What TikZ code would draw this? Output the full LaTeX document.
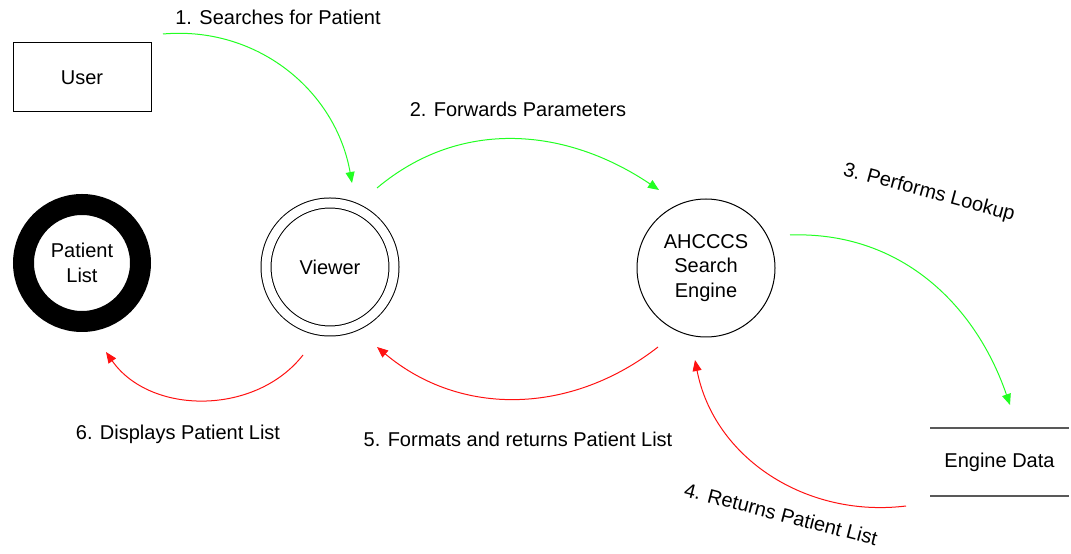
\documentclass[tikz,border=0pt]{standalone}
\usepackage{fontspec}
\setmainfont{Liberation Sans}
\usepackage{tikz}
\usetikzlibrary{arrows.meta}
\usetikzlibrary{positioning}

\definecolor{gogreen}{HTML}{22FF22}
\definecolor{backred}{HTML}{FF1111}

\begin{document}
\begin{tikzpicture}[x=1pt, y=1pt,
	every node/.style={font=\fontsize{20}{24.5}\selectfont, align=center, outer sep=0pt},
	entity/.style={draw, line width=1pt, minimum width=138pt, minimum height=69pt},
	process/.style={draw, circle, line width=1pt, minimum size=138pt},
	subproc/.style={draw, circle, line width=1pt, double, double distance=9pt, minimum size=128pt},
	sink/.style={draw, circle, line width=21pt, minimum size=117pt},
	datastore/.style={minimum width=139pt, minimum height=68pt},
	request/.style={draw, color=gogreen, line width=1pt, -{Triangle[length=11pt,width=9pt]}},
	reply/.style={draw, color=backred, line width=1pt, -{Triangle[length=11pt,width=9pt]}}
]
\useasboundingbox (0,0) rectangle (1071,554);

\node[entity] (user) at (82,476.5) {User};
\node[sink] (plist) at (82,291) {Patient\\List};
\node[subproc] (viewer) at (330,287) {Viewer};
\node[process] (engine) at (706,286) {AHCCCS\\Search\\Engine};
\node[datastore] (edata) at (999.5,92) {Engine Data};
\draw[line width=1.3pt, black!65]
	(edata.north west) -- (edata.north east)
	(edata.south west) -- (edata.south east);

\coordinate (user-out) at ([shift={(12,9)}]user.north east);
\coordinate (viewer-in) at ([shift={(22,84)}]viewer.center);
\coordinate (viewer-out) at ([shift={(47,79)}]viewer.center);
\coordinate (engine-in) at ([shift={(-47,78)}]engine.center);
\coordinate (engine-out) at ([shift={(84,33)}]engine.center);
\coordinate (edata-in) at ([shift={(10.5,23)}]edata.north);
\coordinate (edata-out) at ([shift={(-24,-10)}]edata.south west);
\coordinate (engine-back) at ([shift={(-11,-92)}]engine.center);
\coordinate (engine-ret) at ([shift={(-48,-79)}]engine.center);
\coordinate (viewer-back) at ([shift={(47,-80)}]viewer.center);
\coordinate (viewer-ret) at ([shift={(-27,-88)}]viewer.center);
\coordinate (plist-in) at ([shift={(24,-89)}]plist.center);

\path
(user-out) edge[request, out=5, in=100] (viewer-in)
(viewer-out) edge[request, out=40, in=146] (engine-in)
(engine-out) edge[request, out=2, in=109] (edata-in)
;
\path
(edata-out) edge[reply, out=187, in=-79] (engine-back)
(engine-ret) edge[reply, out=218, in=-40] (viewer-back)
(viewer-ret) edge[reply, out=232, in=-55] (plist-in)
;

\node (step-one) at (278,537) {1. Searches for Patient};
\node (step-two) at (518,445) {2. Forwards Parameters};
\node[rotate=-15] (step-three) at (929,361) {3. Performs Lookup};
\node[rotate=-14.5] (step-four) at (781,40) {4. Returns Patient List};
\node (step-five) at (518,115) {5. Formats and returns Patient List};
\node (step-six) at (178,120) {6. Displays Patient List};
\end{tikzpicture}
\end{document}
